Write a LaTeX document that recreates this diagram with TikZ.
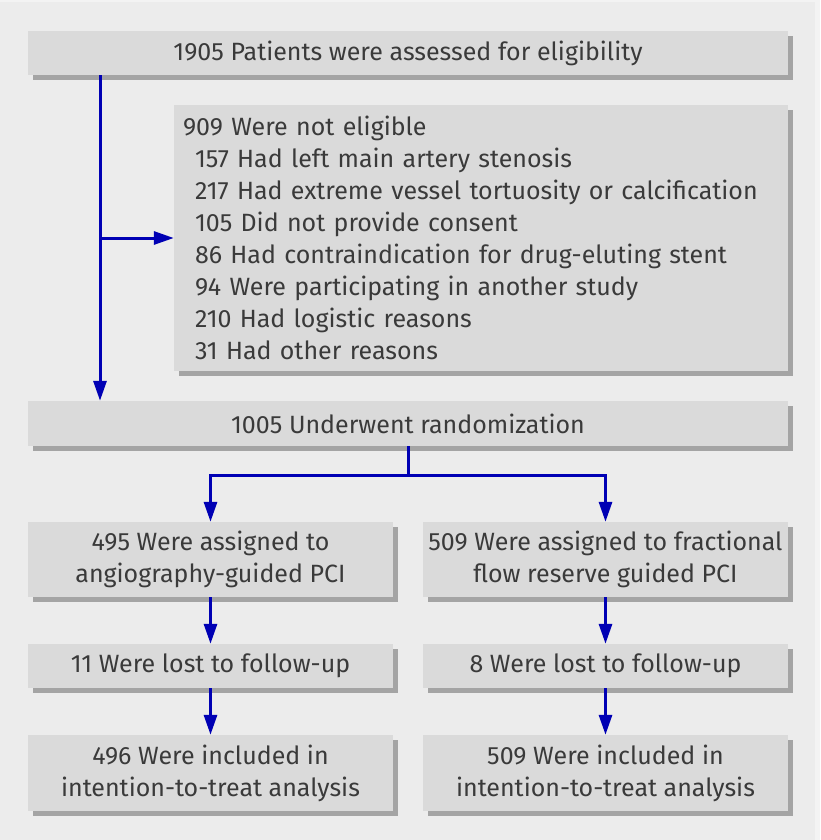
\documentclass[tikz,border=0pt]{standalone}
\usepackage{fontspec}
\setmainfont{Fira Sans}
\usetikzlibrary{arrows.meta,shadows}
\definecolor{bgouter}{HTML}{F3F3F3}
\definecolor{bginner}{HTML}{ECECEC}
\definecolor{boxfill}{HTML}{DADADA}
\definecolor{boxshadow}{HTML}{A4A4A4}
\definecolor{txt}{HTML}{3A3A3A}
\definecolor{arrowblue}{HTML}{0000B4}
\tikzset{
  flowbox/.style={rectangle, fill=boxfill, inner sep=0pt, text=txt,
    font=\fontsize{25}{32}\selectfont,
    drop shadow={shadow xshift=5pt, shadow yshift=-5pt, fill=boxshadow, opacity=1}},
  flowline/.style={draw=arrowblue, line width=3pt},
  flowarrow/.style={flowline, -{Triangle[length=20pt,width=13pt]}},
}
\begin{document}
\begin{tikzpicture}[x=1pt,y=-1pt]
\useasboundingbox (0,0) rectangle (820,840);
\fill[bgouter] (0,0) rectangle (820,840);
\fill[bginner] (0,2) rectangle (815,840);
\node[flowbox, minimum width=760pt, minimum height=44pt] (elig) at (408,53) {1905 Patients were assessed for eligibility};
\node[flowbox, minimum width=614pt, minimum height=266pt, text width=596pt, align=left] (excl) at (481,238)
  {909 Were not eligible\\
   \hspace*{12pt}157 Had left main artery stenosis\\
   \hspace*{12pt}217 Had extreme vessel tortuosity or calcification\\
   \hspace*{12pt}105 Did not provide consent\\
   \hspace*{12pt}86 Had contraindication for drug-eluting stent\\
   \hspace*{12pt}94 Were participating in another study\\
   \hspace*{12pt}210 Had logistic reasons\\
   \hspace*{12pt}31 Had other reasons};
\node[flowbox, minimum width=760pt, minimum height=45pt] (rand) at (408,423.5) {1005 Underwent randomization};
\node[flowbox, minimum width=365pt, minimum height=75pt, align=center] (angio) at (210.5,559.5) {495 Were assigned to\\angiography-guided PCI};
\node[flowbox, minimum width=365pt, minimum height=75pt, align=center] (ffr) at (605.5,559.5) {509 Were assigned to fractional\\flow reserve guided PCI};
\node[flowbox, minimum width=365pt, minimum height=44pt] (lostL) at (210.5,666) {11 Were lost to follow-up};
\node[flowbox, minimum width=365pt, minimum height=44pt] (lostR) at (605.5,666) {8 Were lost to follow-up};
\node[flowbox, minimum width=365pt, minimum height=76pt, align=center] (itL) at (210.5,773) {496 Were included in\\intention-to-treat analysis};
\node[flowbox, minimum width=365pt, minimum height=76pt, align=center] (itR) at (605.5,773) {509 Were included in\\intention-to-treat analysis};
\coordinate (split) at (100,238);
\coordinate (branch) at (408,475);
\draw[flowarrow] (elig.south -| split) -- (rand.north -| split);
\draw[flowarrow] (split) -- (excl.west |- split);
\draw[flowline] (rand.south -| branch) -- (branch);
\draw[flowarrow] (branch) -| (angio.north);
\draw[flowarrow] (branch) -| (ffr.north);
\draw[flowarrow] (angio.south) -- (lostL.north);
\draw[flowarrow] (ffr.south) -- (lostR.north);
\draw[flowarrow] (lostL.south) -- (itL.north);
\draw[flowarrow] (lostR.south) -- (itR.north);
\end{tikzpicture}
\end{document}
